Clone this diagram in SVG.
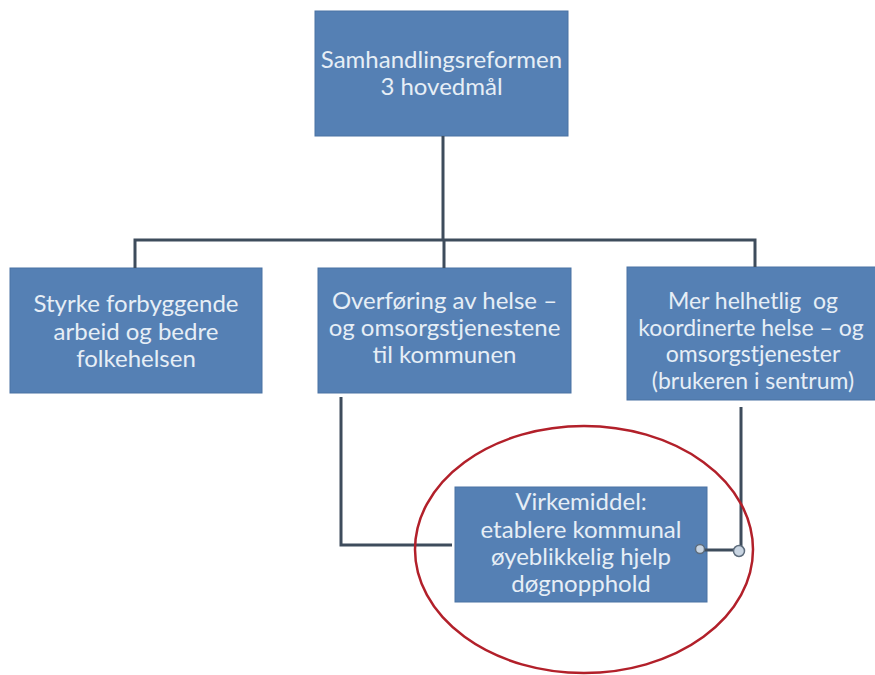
<svg xmlns="http://www.w3.org/2000/svg" width="875" height="675" viewBox="0 0 875 675">
<style>
.box{fill:#5580b4;stroke:#4a72a3;stroke-width:1}
.t{font-family:Lato,"Open Sans","Liberation Sans",sans-serif;font-size:24px;fill:#e6eef6;text-anchor:middle}
.s{font-size:23px}
.c{fill:none;stroke:#3e4c5c;stroke-width:3}
.dot{fill:#c9d5e2;stroke:#5d6c7c;stroke-width:1.5}
</style>
<rect width="875" height="675" fill="#ffffff"/>
<g id="top">
<rect class="box" x="315" y="11" width="253" height="125"/>
<text class="t" x="441.5" y="68">Samhandlingsreformen</text>
<text class="t" x="441.5" y="95">3 hovedmål</text>
</g>
<g id="left">
<rect class="box" x="10" y="268" width="252" height="125"/>
<text class="t" x="136" y="312">Styrke forbyggende</text>
<text class="t" x="136" y="340">arbeid og bedre</text>
<text class="t" x="136" y="367">folkehelsen</text>
</g>
<g id="middle">
<rect class="box" x="318" y="268" width="253" height="125"/>
<text class="t" x="444.5" y="309">Overføring av helse –</text>
<text class="t" x="444.5" y="336">og omsorgstjenestene</text>
<text class="t" x="444.5" y="363">til kommunen</text>
</g>
<g id="right">
<rect class="box" x="627" y="267" width="253" height="133"/>
<text class="t s" x="753" y="309" xml:space="preserve">Mer helhetlig  og</text>
<text class="t s" x="751" y="335.5">koordinerte helse – og</text>
<text class="t s" x="753" y="362">omsorgstjenester</text>
<text class="t s" x="753" y="388.5">(brukeren i sentrum)</text>
</g>
<g id="bottom">
<rect class="box" x="455" y="487" width="252" height="115"/>
<text class="t" x="581" y="510">Virkemiddel:</text>
<text class="t" x="581" y="538">etablere kommunal</text>
<text class="t" x="581" y="565">øyeblikkelig hjelp</text>
<text class="t" x="581" y="592">døgnopphold</text>
</g>
<g id="connectors">
<path class="c" d="M443 136V240M135 268V240H755V267M444 240V268"/>
<path class="c" d="M341 397V545H452"/>
<path class="c" d="M741 407V550M704 550H735"/>
<circle class="dot" cx="700" cy="549" r="4.5"/>
<circle class="dot" cx="739" cy="551" r="5.5"/>
</g>
<ellipse cx="584" cy="549.5" rx="169" ry="123.5" fill="none" stroke="#b2202a" stroke-width="2.5"/>
</svg>
